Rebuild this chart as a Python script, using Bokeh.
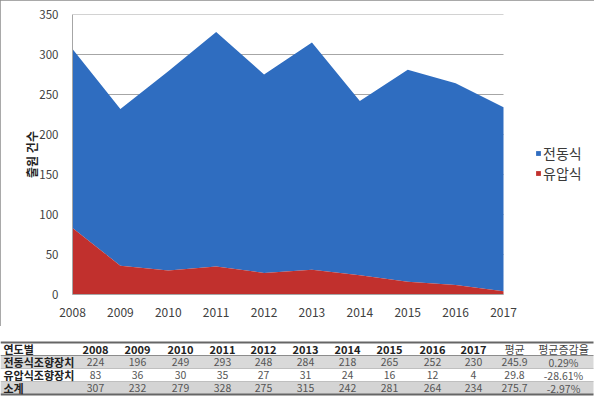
from bokeh.plotting import figure
from bokeh.models import (ColumnDataSource, Range1d, FixedTicker, Legend, LegendItem, InlineStyleSheet)
from bokeh.core.properties import value
from bokeh.embed import file_html
from bokeh.resources import INLINE

# ---------------- data ----------------
years = [2008, 2009, 2010, 2011, 2012, 2013, 2014, 2015, 2016, 2017]
electric = [224, 196, 249, 293, 248, 284, 218, 265, 252, 230]   # 전동식조향장치
hydraulic = [83, 36, 30, 35, 27, 31, 24, 16, 12, 4]             # 유압식조향장치
subtotal = [307, 232, 279, 328, 275, 315, 242, 281, 264, 234]   # 소계
avg_vals = ["245.9", "29.8", "275.7"]
growth_vals = ["0.29%", "-28.61%", "-2.97%"]
row_labels = ["전동식조향장치", "유압식조향장치", "소계"]
header_first = "연도별"
header_extra = ["평균", "평균증감율"]
series_names = ["전동식", "유압식"]
y_ticks = [0, 50, 100, 150, 200, 250, 300, 350]

FONT = "Noto Sans CJK KR"
BLUE = "#2f6dc0"
RED = "#c1302d"

W = 594
CH = 326
TH = 73

# layout geometry (pixels)
FRAME_L = 72       # x of first year
DATA_W = 431       # pixel span of the year axis
FRAME_R_PAD = 2
frame_w = W - FRAME_L - FRAME_R_PAD
x_end = years[0] + (years[-1] - years[0]) * frame_w / DATA_W

# ---------------- chart ----------------
src = ColumnDataSource(dict(
    year=years,
    zero=[0] * len(years),
    hyd=hydraulic,
    tot=[h + e for h, e in zip(hydraulic, electric)],
))

p = figure(width=W, height=CH, output_backend="svg", toolbar_location=None,
           x_range=Range1d(years[0], x_end), y_range=Range1d(0, 350),
           min_border_left=FRAME_L, min_border_right=FRAME_R_PAD,
           min_border_top=14, min_border_bottom=32)
p.outline_line_color = None
p.background_fill_color = "white"
p.stylesheets = [InlineStyleSheet(css=":host { outline: 1px solid #8c8c8c; outline-offset: -1px; }")]

p.xgrid.grid_line_color = None
p.ygrid.grid_line_color = None
# horizontal gridlines limited to the year span
p.segment(x0=[years[0]] * len(y_ticks), x1=[years[-1]] * len(y_ticks),
          y0=y_ticks, y1=y_ticks, line_color="#a6a6a6", line_width=1)

r_blue = p.varea(x="year", y1="hyd", y2="tot", source=src, fill_color=BLUE)
r_red = p.varea(x="year", y1="zero", y2="hyd", source=src, fill_color=RED)

p.xaxis.ticker = FixedTicker(ticks=years)
p.yaxis.ticker = FixedTicker(ticks=y_ticks)
p.xaxis.bounds = (years[0], years[-1])
for ax in (p.xaxis[0], p.yaxis[0]):
    ax.major_tick_line_color = None
    ax.minor_tick_line_color = None
    ax.axis_line_color = "#a6a6a6"
    ax.major_label_text_font = FONT
    ax.major_label_text_color = "#404040"
p.xaxis.major_label_text_font_size = "12px"
p.xaxis.major_label_standoff = 7
p.yaxis.major_label_text_font_size = "11.5px"
p.yaxis.major_label_standoff = 8
p.yaxis.axis_label = "출원 건수"
p.yaxis.axis_label_text_font = FONT
p.yaxis.axis_label_text_font_style = "bold"
p.yaxis.axis_label_text_font_size = "12px"
p.yaxis.axis_label_text_color = "#222222"
p.yaxis.axis_label_standoff = -4

legend = Legend(items=[LegendItem(label=series_names[0], renderers=[r_blue]),
                       LegendItem(label=series_names[1], renderers=[r_red])],
                location=(463, 111), padding=0, margin=0, spacing=0,
                glyph_width=6, glyph_height=6, label_height=20, label_standoff=2,
                label_text_font=FONT, label_text_font_size="14px",
                label_text_color="#3a3a3a",
                border_line_color=None, background_fill_alpha=0)
p.add_layout(legend)

# ---------------- table ----------------
t = figure(width=W, height=TH, output_backend="svg", toolbar_location=None,
           x_range=Range1d(0, W), y_range=Range1d(TH, 0),
           min_border=0)
t.axis.visible = False
t.grid.visible = False
t.outline_line_color = None

top = 16
rh = 13
col_x = [95, 137, 180, 222, 263, 305, 347, 389, 432, 473, 514, 563]
label_x = 3
right_edge = 593

# row bands
t.quad(left=[0, 0], right=[right_edge, right_edge],
       top=[top + rh, top + 3 * rh], bottom=[top + 2 * rh, top + 4 * rh],
       fill_color=["#d9d9d9", "#d4d4d4"], line_color=None)
# lines
t.segment(x0=[0] * 5, x1=[right_edge] * 5,
          y0=[top, top + rh, top + 2 * rh, top + 3 * rh, top + 4 * rh],
          y1=[top, top + rh, top + 2 * rh, top + 3 * rh, top + 4 * rh],
          line_color=["#666666", "#8c8c8c", "#bfbfbf", "#bfbfbf", "#666666"],
          line_width=[2, 1, 1, 1, 2])

# header
hdr_text = [str(y) for y in years] + header_extra
t.text(x=[label_x], y=[top + rh / 2], text=[header_first], text_font=value(FONT),
       text_font_size="11px", text_font_style="bold", text_color="#222222",
       text_baseline="middle", text_align="left")
t.text(x=col_x[:10], y=[top + rh / 2] * 10, text=hdr_text[:10], text_font=value(FONT),
       text_font_size="11px", text_font_style="bold", text_color="#222222",
       text_baseline="middle", text_align="center")
t.text(x=col_x[10:], y=[top + rh / 2] * 2, text=hdr_text[10:], text_font=value(FONT),
       text_font_size="11px", text_color="#444444",
       text_baseline="middle", text_align="center")

# row labels
t.text(x=[label_x] * 3, y=[top + rh * (i + 1.5) for i in range(3)], text=row_labels,
       text_font=value(FONT), text_font_size="11px", text_font_style="bold",
       text_color="#222222", text_baseline="middle", text_align="left")

# numbers
xs, ys, txt = [], [], []
for i, row in enumerate([electric, hydraulic, subtotal]):
    vals = [str(v) for v in row] + [avg_vals[i], growth_vals[i]]
    for j, v in enumerate(vals):
        xs.append(col_x[j])
        ys.append(top + rh * (i + 1.5))
        txt.append(v)
t.text(x=xs, y=ys, text=txt, text_font=value(FONT), text_font_size="10.5px",
       text_color="#555555", text_baseline="middle", text_align="center")

open("out.html", "w").write(file_html([p, t], INLINE))
